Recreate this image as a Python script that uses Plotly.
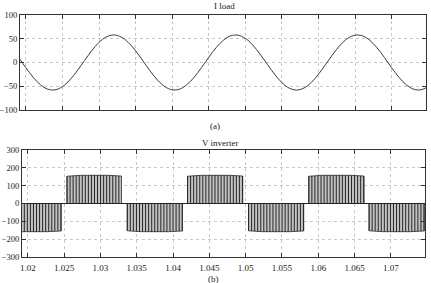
import numpy as np
import plotly.graph_objects as go

# ---------------- data ----------------
# Load current (A), sampled every 1 ms from t = 1.019 s
i_t0 = 1.019
i_dt = 0.001
i_load = [10.9, -10.9, -31.1, -46.9, -56.2, -57.5, -50.8, -37.0, -17.9, 3.6,
          24.7, 42.3, 53.9, 58.0, 53.9, 42.3, 24.7, 3.6, -17.9, -37.0,
          -50.8, -57.5, -56.2, -46.9, -31.1, -10.9, 10.9, 31.1, 46.9, 56.2,
          57.5, 50.8, 37.0, 17.9, -3.6, -24.7, -42.3, -53.9, -58.0, -53.9,
          -42.3, -24.7, -3.6, 17.9, 37.0, 50.8, 57.5, 56.2, 46.9, 31.1,
          10.9, -10.9, -31.1, -46.9, -56.2, -57.5, -50.8]

# Inverter voltage: PWM blocks (start, end in s), polarity, envelope level (V)
block_start = [1.0170, 1.0254, 1.0337, 1.0420, 1.0504, 1.0587, 1.0670]
block_end = [1.0246, 1.0329, 1.0413, 1.0496, 1.0580, 1.0663, 1.0746]
block_sign = [-1, 1, -1, 1, -1, 1, -1]
env_frac = [0.0, 0.25, 0.5, 0.75, 1.0]      # position inside block
env_level = [153, 158, 160, 158, 154]        # |V| along the block
pulse_spacing = 0.00042                      # spacing of visible switching edges

x_ticks = [1.02, 1.025, 1.03, 1.035, 1.04, 1.045, 1.05, 1.055, 1.06, 1.065, 1.07]
x_ticklabels = ["1.02", "1.025", "1.03", "1.035", "1.04", "1.045", "1.05",
                "1.055", "1.06", "1.065", "1.07"]
i_ticks = [-100, -50, 0, 50, 100]
v_ticks = [-300, -200, -100, 0, 100, 200, 300]
x_range = [1.0192, 1.0747]

# ---------------- figure ----------------
W, H = 431, 283
fig = go.Figure()

t_i = [i_t0 + k * i_dt for k in range(len(i_load))]
fig.add_trace(go.Scatter(x=t_i, y=i_load, mode="lines", line=dict(color="#3a3a3a", width=1, shape="spline"),
                         xaxis="x", yaxis="y", hoverinfo="skip"))

# voltage blocks
for s, e, sg in zip(block_start, block_end, block_sign):
    xs = [s + f * (e - s) for f in env_frac]
    ys = [sg * v for v in env_level]
    fig.add_trace(go.Scatter(x=[s] + xs + [e, s], y=[0] + ys + [0, 0], mode="lines",
                             fill="toself", fillcolor="#c2c2c2",
                             line=dict(color="#2a2a2a", width=0.8),
                             xaxis="x2", yaxis="y2", hoverinfo="skip"))
    px, py = [], []
    t = s
    while t <= e + 1e-9:
        h = sg * np.interp((t - s) / (e - s), env_frac, env_level)
        px += [t, t, None]
        py += [0, h, None]
        t += pulse_spacing
    fig.add_trace(go.Scatter(x=px, y=py, mode="lines", line=dict(color="#262626", width=1),
                             xaxis="x2", yaxis="y2", hoverinfo="skip"))

fig.add_trace(go.Scatter(x=[1.015, 1.078], y=[0, 0], mode="lines", line=dict(color="#222", width=1),
                         xaxis="x2", yaxis="y2", hoverinfo="skip"))

font = dict(family="Liberation Serif", size=9, color="#222")
common_x = dict(range=x_range, tickvals=x_ticks, showgrid=True, gridcolor="#c8c8c8", griddash="dot",
                gridwidth=1, zeroline=False, showline=True, linecolor="#333", linewidth=1, mirror="ticks",
                ticks="inside", ticklen=4, tickcolor="#333", automargin=False, tickfont=font,
                ticklabelstandoff=2)
common_y = dict(showgrid=True, gridcolor="#c8c8c8", griddash="dot", gridwidth=1, zeroline=False,
                showline=True, linecolor="#333", linewidth=1, mirror="ticks", ticks="inside", ticklen=4,
                tickcolor="#333", automargin=False, tickfont=dict(font, size=8.5), ticklabelstandoff=0)

fig.update_layout(
    width=W, height=H, margin=dict(l=0, r=0, t=0, b=0),
    paper_bgcolor="white", plot_bgcolor="white", showlegend=False,
    xaxis=dict(common_x, domain=[20 / W, 426 / W], anchor="y", showticklabels=False),
    yaxis=dict(common_y, domain=[1 - 110 / H, 1 - 15 / H], anchor="x", range=[-100, 100], tickvals=i_ticks),
    xaxis2=dict(common_x, domain=[22 / W, 425 / W], anchor="y2", ticktext=x_ticklabels),
    yaxis2=dict(common_y, domain=[1 - 257 / H, 1 - 150 / H], anchor="x2", range=[-300, 300], tickvals=v_ticks),
    annotations=[
        dict(text="I load", x=224 / W, y=1 - 6 / H, xref="paper", yref="paper", showarrow=False,
             font=font, yanchor="middle", xanchor="center"),
        dict(text="(a)", x=215 / W, y=1 - 126 / H, xref="paper", yref="paper", showarrow=False,
             font=font, yanchor="middle", xanchor="center"),
        dict(text="V inverter", x=220 / W, y=1 - 143 / H, xref="paper", yref="paper", showarrow=False,
             font=font, yanchor="middle", xanchor="center"),
        dict(text="(b)", x=213 / W, y=1 - 278.5 / H, xref="paper", yref="paper", showarrow=False,
             font=font, yanchor="middle", xanchor="center"),
    ],
)

fig.write_html("out.html")
